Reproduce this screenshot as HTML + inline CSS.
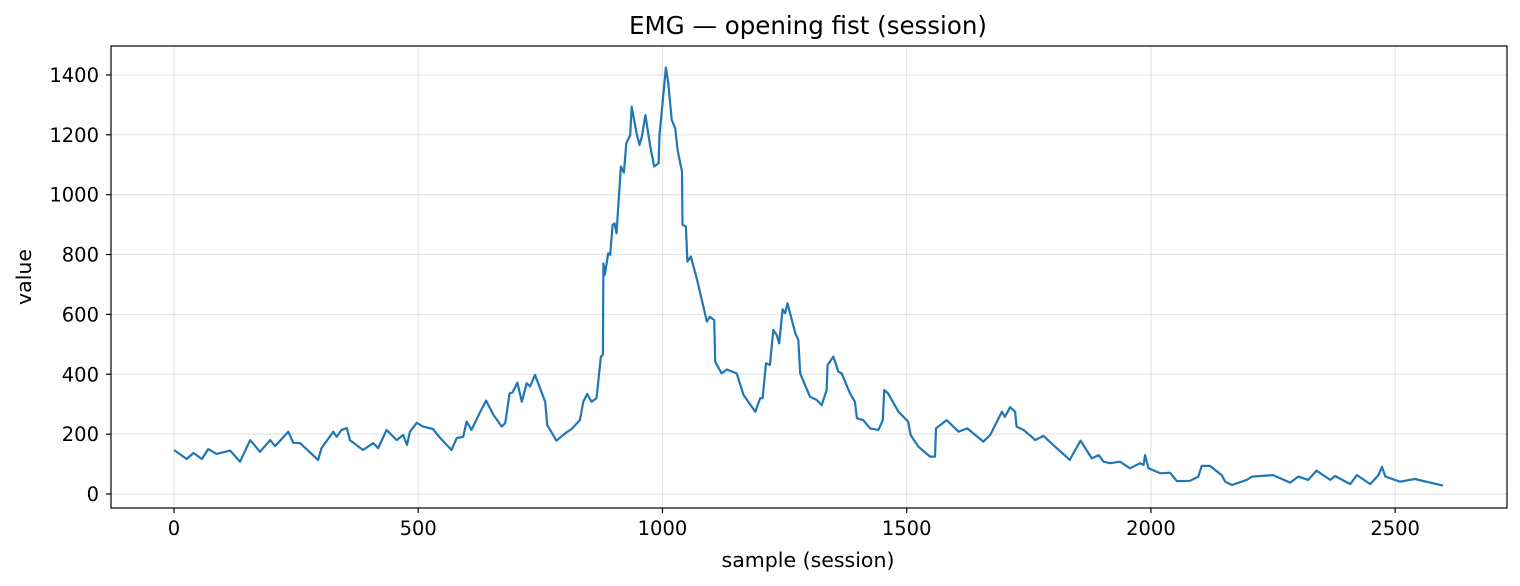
<!DOCTYPE html>
<html><head><meta charset="utf-8"><style>
html,body{margin:0;padding:0;background:#fff}
svg{display:block;font-family:"DejaVu Sans","Liberation Sans",sans-serif}
</style></head><body>
<svg id="chart" width="1520" height="586" viewBox="0 0 1520 586" xmlns="http://www.w3.org/2000/svg">
<rect width="1520" height="586" fill="#fff"/>
<text x="808" y="34" text-anchor="middle" font-size="24.5" fill="#000">EMG — opening fist (session)</text>
<g id="grid"></g>
<g id="series"></g>
<rect x="111" y="46" width="1396" height="462" fill="none" stroke="#000" stroke-width="1.2"/>
<g id="xticks"></g>
<g id="yticks"></g>
<text x="808" y="567" text-anchor="middle" font-size="20.5">sample (session)</text>
<text x="31" y="277" text-anchor="middle" font-size="20.5" transform="rotate(-90 31 277)">value</text>
</svg>
<script>
const xTicks=[0,500,1000,1500,2000,2500];
const yTicks=[0,200,400,600,800,1000,1200,1400];
const samples=[0,26,40,57,70,87,115,135,156,176,197,207,234,244,258,295,302,326,333,343,354,360,387,408,418,435,456,469,477,483,497,510,530,545,568,579,592,599,609,627,639,654,671,678,687,693,703,712,722,729,739,760,764,783,801,814,831,838,846,855,865,874,878,879,882,889,893,898,902,906,915,921,926,934,937,947,953,958,965,975,983,992,994,1007,1012,1019,1026,1031,1040,1041,1048,1051,1058,1070,1091,1097,1106,1108,1121,1132,1152,1166,1190,1200,1205,1212,1220,1227,1234,1239,1246,1251,1256,1272,1278,1282,1302,1316,1326,1336,1338,1350,1360,1367,1384,1394,1398,1411,1425,1442,1451,1454,1462,1483,1503,1508,1524,1548,1558,1560,1582,1606,1624,1657,1671,1695,1701,1712,1722,1725,1739,1756,1763,1780,1800,1834,1845,1856,1879,1893,1903,1916,1937,1957,1978,1985,1988,1995,2019,2039,2053,2080,2097,2104,2121,2145,2152,2166,2196,2207,2250,2285,2302,2322,2339,2367,2377,2408,2422,2449,2466,2473,2480,2510,2540,2598];
const values=[147,117,137,117,150,134,145,108,180,141,180,160,208,171,170,114,153,208,191,214,220,180,147,170,153,214,180,197,164,208,238,225,217,187,147,187,191,242,214,275,312,264,225,237,336,339,372,308,370,359,398,308,230,178,203,217,247,308,334,308,320,459,465,770,732,804,799,899,904,871,1094,1074,1172,1199,1294,1205,1166,1194,1266,1160,1094,1105,1199,1425,1372,1250,1222,1149,1077,899,893,776,793,721,576,592,581,442,403,416,403,331,275,320,320,437,431,548,531,503,617,604,637,537,515,403,325,314,297,347,431,459,409,403,336,308,253,247,219,214,247,347,336,275,242,197,158,125,125,219,247,208,219,175,197,275,258,290,275,225,214,191,180,194,164,114,147,178,119,130,108,103,108,86,103,97,130,86,69,71,43,44,58,94,94,63,41,30,47,58,63,38,58,47,78,47,60,33,63,33,63,91,58,41,50,28];
const L=111,R=1507,T=46,B=508;
const x0=-129,x1=2729,y0=-46.8,y1=1496.7;
const sx=v=>L+(v-x0)/(x1-x0)*(R-L);
const sy=v=>B-(v-y0)/(y1-y0)*(B-T);
const NS="http://www.w3.org/2000/svg";
const grid=document.getElementById('grid'),xt=document.getElementById('xticks'),yt=document.getElementById('yticks');
function mk(t,a){const e=document.createElementNS(NS,t);for(const k in a)e.setAttribute(k,a[k]);return e;}
xTicks.forEach(v=>{const x=sx(v);
 const g=mk('line',{x1:x,x2:x,y1:T,y2:B,stroke:'#000','stroke-opacity':0.1,'stroke-width':1.2});
 
 
 grid.appendChild(g);
 const tk=mk('line',{x1:x,x2:x,y1:B,y2:B+5,stroke:'#000','stroke-width':1.2});
 
 
 xt.appendChild(tk);
 const tx=mk('text',{x:x,y:B+27,'text-anchor':'middle','font-size':19.5});
 
 
 tx.textContent=v;xt.appendChild(tx);});
yTicks.forEach(v=>{const y=sy(v);
 const g=mk('line',{x1:L,x2:R,y1:y,y2:y,stroke:'#000','stroke-opacity':0.1,'stroke-width':1.2});
 
 
 grid.appendChild(g);
 const tk=mk('line',{x1:L-5,x2:L,y1:y,y2:y,stroke:'#000','stroke-width':1.2});
 
 
 yt.appendChild(tk);
 const tx=mk('text',{x:L-12,y:y+7,'text-anchor':'end','font-size':19.5});
 
 
 tx.textContent=v;yt.appendChild(tx);});
const d=samples.map((s,i)=>(i?'L':'M')+sx(s).toFixed(1)+' '+sy(values[i]).toFixed(1)).join(' ');
const p=mk('path',{d:d,fill:'none',stroke:'#1f77b4','stroke-width':2.2,'stroke-linejoin':'round'});


document.getElementById('series').appendChild(p);
</script>
</body></html>
